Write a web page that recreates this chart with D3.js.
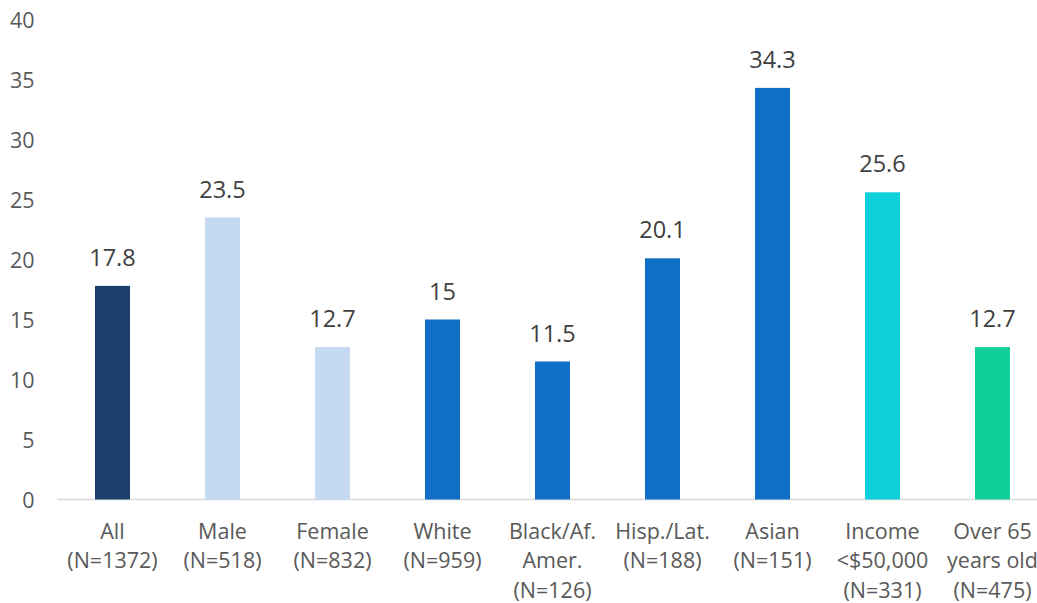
<!DOCTYPE html>
<html><head><meta charset="utf-8">
<script src="https://cdn.jsdelivr.net/npm/d3@7"></script>
<style>body{margin:0;background:#fff}svg{display:block}</style>
</head><body>
<script>
const categories = [
  ["All","(N=1372)"],
  ["Male","(N=518)"],
  ["Female","(N=832)"],
  ["White","(N=959)"],
  ["Black/Af.","Amer.","(N=126)"],
  ["Hisp./Lat.","(N=188)"],
  ["Asian","(N=151)"],
  ["Income","<$50,000","(N=331)"],
  ["Over 65","years old","(N=475)"]
];
const values = [17.8, 23.5, 12.7, 15, 11.5, 20.1, 34.3, 25.6, 12.7];
const colors = ["#1a3f6b","#c5d9f1","#c5d9f1","#0f6fc6","#0f6fc6","#0f6fc6","#0f6fc6","#0dd0db","#10cf9b"];
const yTicks = [0,5,10,15,20,25,30,35,40];

const W = 1037, H = 603;
const svg = d3.select("body").append("svg").attr("width", W).attr("height", H);
const font = "'Open Sans', sans-serif";

const x = d3.scaleBand().domain(d3.range(categories.length)).range([57.5, 1047.5]).paddingInner(0.682).paddingOuter(0.341);
const y = d3.scaleLinear().domain([0, 40]).range([499.5, 19.5]);

const yAxis = svg.append("g").attr("transform", "translate(34.5,0)")
  .call(d3.axisLeft(y).tickValues(yTicks).tickSize(0).tickPadding(0));
yAxis.select(".domain").remove();
yAxis.selectAll("text").attr("font-family", font).attr("font-size", 21.5).attr("fill", "#595959").attr("dy", "0.36em");

svg.append("line").attr("x1", 57).attr("x2", W).attr("y1", y(0)).attr("y2", y(0))
  .attr("stroke", "#d9d9d9").attr("stroke-width", 1.5);

svg.append("g").selectAll("rect").data(values).join("rect")
  .attr("x", (d,i) => x(i)).attr("width", x.bandwidth())
  .attr("y", d => y(d)).attr("height", d => y(0) - y(d))
  .attr("fill", (d,i) => colors[i]);

svg.append("g").selectAll("text").data(values).join("text")
  .attr("x", (d,i) => x(i) + x.bandwidth()/2).attr("y", d => y(d) - 20)
  .attr("text-anchor", "middle").attr("font-family", font).attr("font-size", 23.5).attr("fill", "#404040")
  .text(d => d);

const xl = svg.append("g").selectAll("text").data(categories).join("text")
  .attr("x", (d,i) => x(i) + x.bandwidth()/2).attr("y", 538.5)
  .attr("text-anchor", "middle").attr("font-family", font).attr("font-size", 21.5).attr("fill", "#595959");
xl.selectAll("tspan").data(d => d).join("tspan")
  .attr("x", function(){ return this.parentNode.getAttribute("x"); })
  .attr("dy", (d,j) => j === 0 ? 0 : 29.5).text(d => d);
</script>
</body></html>
